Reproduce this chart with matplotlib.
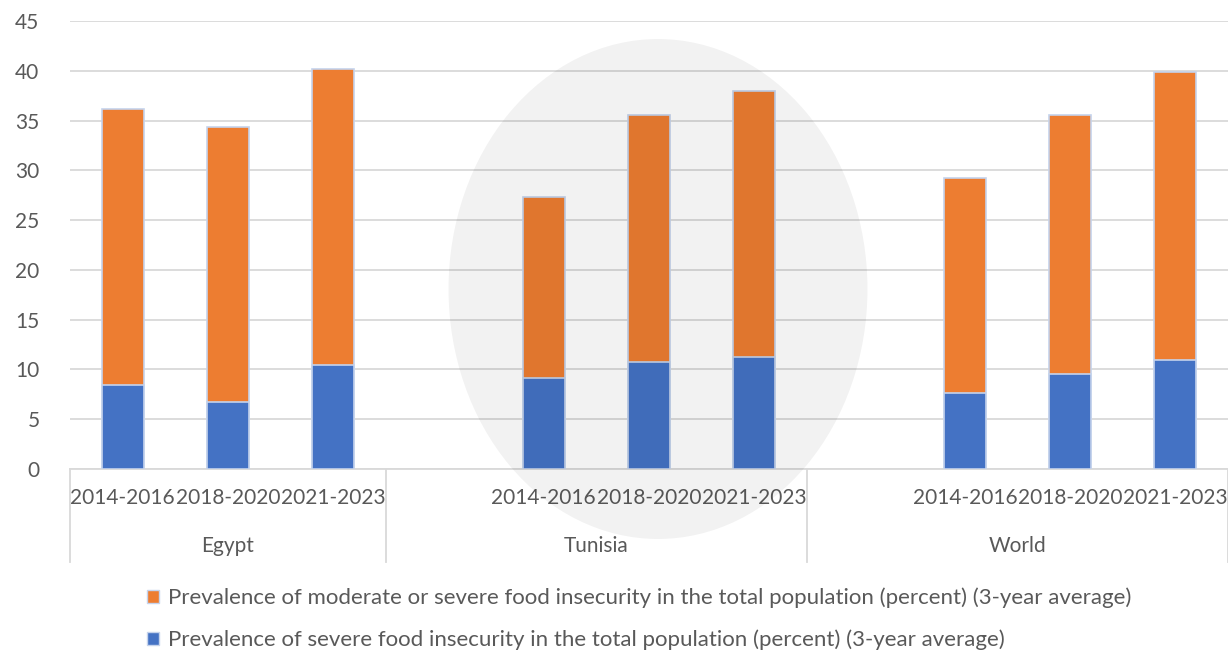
import matplotlib
matplotlib.use("Agg")
import matplotlib.pyplot as plt
from matplotlib.patches import Ellipse, Patch
from matplotlib.lines import Line2D
import matplotlib.transforms as mtransforms

# ---- data ----
groups = ["Egypt", "Tunisia", "World"]
periods = ["2014-2016", "2018-2020", "2021-2023"]
moderate_or_severe = [36.2, 34.4, 40.2, 27.3, 35.6, 38.0, 29.2, 35.6, 39.9]
severe = [8.4, 6.7, 10.4, 9.1, 10.7, 11.3, 7.6, 9.5, 10.9]
label_moderate = "Prevalence of moderate or severe food insecurity in the total population (percent) (3-year average)"
label_severe = "Prevalence of severe food insecurity in the total population (percent) (3-year average)"
yticks = [0, 5, 10, 15, 20, 25, 30, 35, 40, 45]

ORANGE = "#ED7D31"
BLUE = "#4472C4"
EDGE = "#C5D3EC"
GRID = "#D9D9D9"
TXT = "#595959"

plt.rcParams["font.family"] = ["Lato", "DejaVu Sans"]

W, H = 1228, 654
fig = plt.figure(figsize=(W / 100, H / 100), dpi=100)
ax = fig.add_axes([70 / W, 1 - 469 / H, 1 - 70 / W, (469 - 21) / H])

slots_per_group = 4
pos = [g * slots_per_group + p for g in range(len(groups)) for p in range(len(periods))]
bw = 0.4

ax.bar(pos, moderate_or_severe, width=bw, color=ORANGE, edgecolor=EDGE, linewidth=1.2, zorder=2)
ax.bar(pos, severe, width=bw, color=BLUE, edgecolor=EDGE, linewidth=1.2, zorder=3)

ax.set_xlim(-0.5, 10.5)
ax.set_ylim(0, 45)
ax.set_yticks(yticks)
ax.set_yticklabels([str(t) for t in yticks], color=TXT, fontsize=15)
ax.tick_params(axis="y", length=0, pad=22)
ax.set_xticks([])
ax.yaxis.grid(True, color=GRID, linewidth=1.3, zorder=0)
ax.set_axisbelow(True)
for s in ["left", "right", "top"]:
    ax.spines[s].set_visible(False)
ax.spines["bottom"].set_color(GRID)
ax.spines["bottom"].set_linewidth(1.3)

trans = mtransforms.blended_transform_factory(ax.transData, ax.transAxes)
ax_h = (469 - 21)
for i, p in enumerate(pos):
    ax.text(p, -29 / ax_h, periods[i % len(periods)], transform=trans, ha="center", va="center",
            color=TXT, fontsize=15, clip_on=False)

# group dividers and labels
bounds = [-0.5, 2.5, 6.5, 10.5]
for b in bounds:
    ax.add_line(Line2D([b, b], [0, -93 / ax_h], transform=trans, color=GRID, linewidth=1.3, clip_on=False))
for g, name in enumerate(groups):
    c = (bounds[g] + bounds[g + 1]) / 2
    ax.text(c, -77 / ax_h, name, transform=trans, ha="center", va="center", color=TXT, fontsize=15, clip_on=False)

# highlight ellipse around Tunisia
ell = Ellipse((658 / W, 1 - 289 / H), 419 / W, 500 / H, transform=fig.transFigure,
              facecolor="black", alpha=0.05, edgecolor="none", zorder=5)
fig.add_artist(ell)

handles = [Patch(facecolor=ORANGE, edgecolor=EDGE, label=label_moderate),
           Patch(facecolor=BLUE, edgecolor=EDGE, label=label_severe)]
fig.legend(handles=handles, loc="center left", bbox_to_anchor=(147 / W, 1 - 619 / H),
           frameon=False, fontsize=16, labelcolor=TXT, handlelength=0.55, handleheight=0.55,
           handletextpad=0.38, labelspacing=0.95, borderpad=0, borderaxespad=0)

fig.savefig("out.png", dpi=100, facecolor="white")
